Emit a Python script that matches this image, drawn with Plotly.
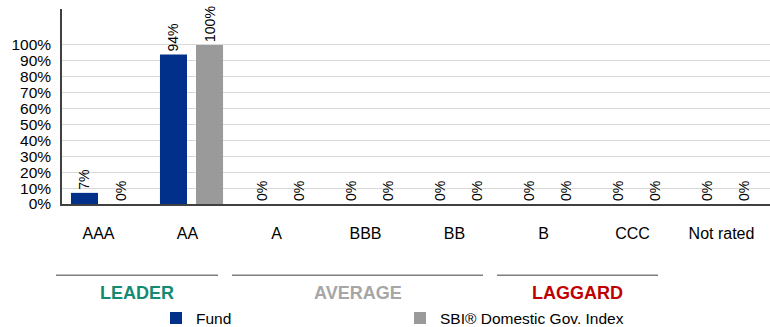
import plotly.graph_objects as go

categories = ["AAA", "AA", "A", "BBB", "BB", "B", "CCC", "Not rated"]
fund_values = [0.07, 0.94, 0, 0, 0, 0, 0, 0]
index_values = [0.0, 1.00, 0, 0, 0, 0, 0, 0]
series_names = ["Fund", "SBI® Domestic Gov. Index"]
y_tick_values = [0, 0.1, 0.2, 0.3, 0.4, 0.5, 0.6, 0.7, 0.8, 0.9, 1.0]
y_tick_labels = ["0%", "10%", "20%", "30%", "40%", "50%", "60%", "70%", "80%", "90%", "100%"]
group_labels = ["LEADER", "AVERAGE", "LAGGARD"]

FONT = "Arial, 'Liberation Sans', sans-serif"
W, H = 770, 327
ML, MR, MT, MB = 62, 0, 9, 123
PW, PH = W - ML - MR, H - MT - MB

def px_x(p):
    return (p - ML) / PW

def px_y(p):
    return (H - MB - p) / PH

fig = go.Figure()
for name, vals, color in [(series_names[0], fund_values, "#00308a"),
                          (series_names[1], index_values, "#9a9a9a")]:
    fig.add_trace(go.Bar(
        x=categories, y=vals, name=name,
        marker=dict(color=color, line=dict(width=0)),
        text=vals, texttemplate="%{y:.0%}", textposition="outside",
        textangle=-90, cliponaxis=False, constraintext="none",
        textfont=dict(family=FONT, size=14, color="#000000"),
    ))

fig.update_layout(
    width=W, height=H,
    margin=dict(l=ML, r=MR, t=MT, b=MB, autoexpand=False),
    paper_bgcolor="white", plot_bgcolor="white",
    barmode="group", bargap=0.19, bargroupgap=0.25,
    font=dict(family=FONT, color="#000000"),
    showlegend=True,
    legend=dict(orientation="h", x=px_x(156), xanchor="left",
                y=px_y(318.5), yanchor="middle",
                entrywidth=199, entrywidthmode="pixels",
                font=dict(family=FONT, size=15.5, color="#000000"),
                bgcolor="rgba(0,0,0,0)", traceorder="normal"),
)
fig.update_xaxes(
    range=[-0.455, 7.5], showgrid=False, showline=True,
    linecolor="#404040", linewidth=1.5, ticks="",
    tickfont=dict(family=FONT, size=16, color="#000000"),
    ticklabelstandoff=14, ticklabelshift=-4, fixedrange=True,
)
fig.update_yaxes(
    range=[0, 1.226], tickvals=y_tick_values, ticktext=y_tick_labels,
    showgrid=True, gridcolor="#d9d9d9", gridwidth=1,
    showline=True, linecolor="#404040", linewidth=1.5, ticks="",
    zeroline=False,
    tickfont=dict(family=FONT, size=15.5, color="#000000"),
    ticklabelstandoff=6, fixedrange=True,
)

# group underline bars and labels
spans = [(56, 218), (232, 483), (497, 658)]
label_centers = [137, 357.5, 577.5]
label_colors = ["#138a72", "#a6a6a6", "#c00000"]
for (x0, x1), cx, lab, col in zip(spans, label_centers, group_labels, label_colors):
    fig.add_shape(type="line", xref="paper", yref="paper",
                  x0=px_x(x0), x1=px_x(x1), y0=px_y(275.3), y1=px_y(275.3),
                  line=dict(color="#7f7f7f", width=1.5))
    fig.add_annotation(xref="paper", yref="paper", x=px_x(cx), y=px_y(292.5),
                       xanchor="center", yanchor="middle", showarrow=False,
                       text=f"<b>{lab}</b>",
                       font=dict(family=FONT, size=18, color=col))

fig.write_html("out.html")
